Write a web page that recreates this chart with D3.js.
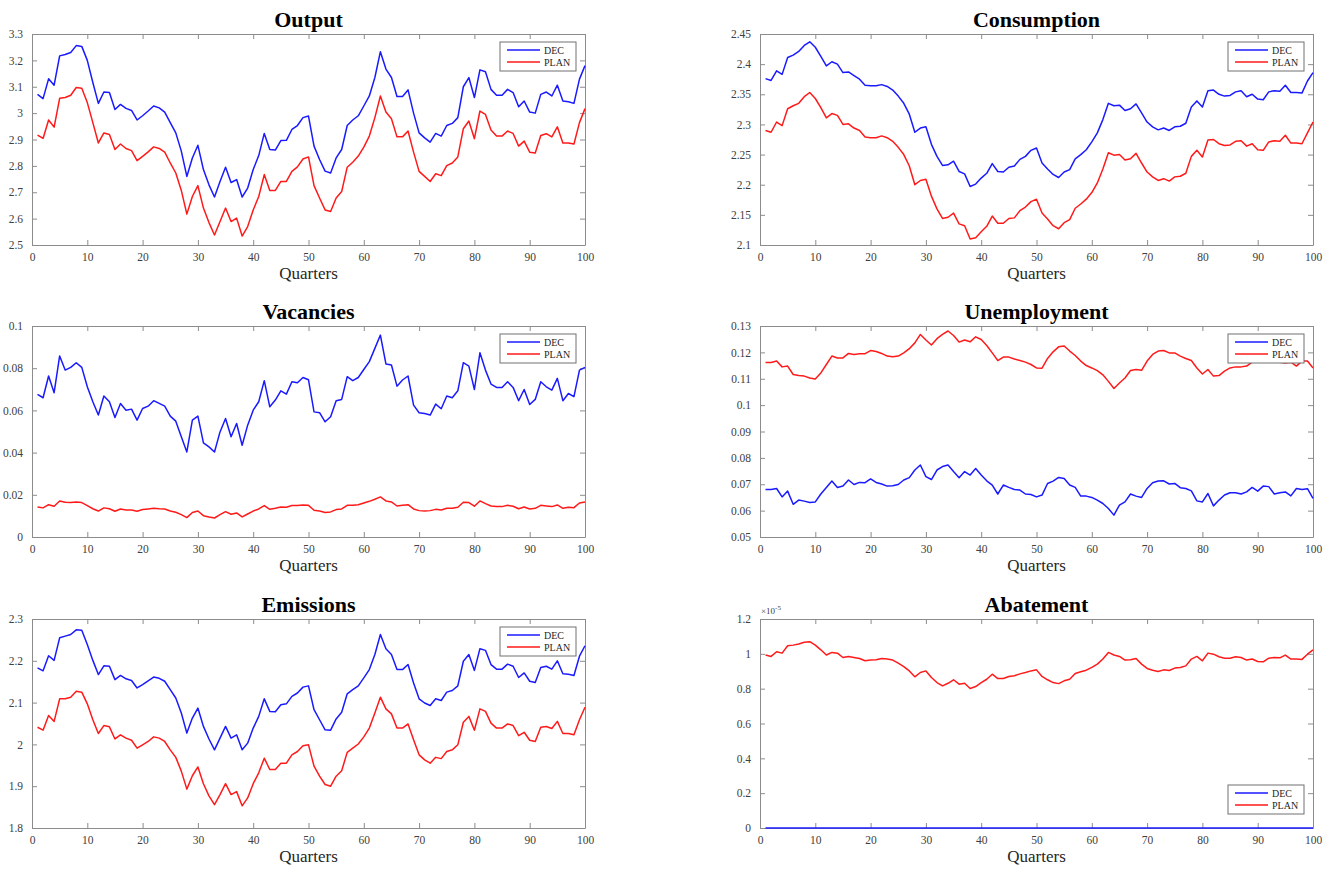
<!DOCTYPE html>
<html>
<head>
<meta charset="utf-8">
<script src="https://cdn.jsdelivr.net/npm/d3@7"></script>
<style>
  html, body { margin: 0; padding: 0; background: #fff; }
  svg { display: block; }
  text { font-family: "Liberation Serif", "Times New Roman", serif; }
</style>
</head>
<body>
<svg id="chart" width="1336" height="874"></svg>
<script>
// ---------------- DATA ----------------
const quarters = d3.range(1, 101);
const xTicks = [0, 10, 20, 30, 40, 50, 60, 70, 80, 90, 100];
const seriesNames = ["DEC", "PLAN"];

const outputDEC = [3.071,3.055,3.13,3.106,3.217,3.222,3.23,3.256,3.253,3.2,
3.116,3.037,3.08,3.078,3.014,3.033,3.018,3.01,2.974,2.99,
3.008,3.027,3.02,3.004,2.964,2.925,2.856,2.76,2.83,2.878,
2.786,2.728,2.682,2.741,2.795,2.737,2.748,2.682,2.716,2.786,
2.839,2.923,2.862,2.86,2.896,2.897,2.938,2.953,2.983,2.989,
2.875,2.824,2.78,2.773,2.83,2.862,2.953,2.974,2.99,3.027,
3.065,3.135,3.233,3.167,3.135,3.063,3.063,3.088,3.0,2.925,
2.906,2.89,2.923,2.913,2.953,2.961,2.983,3.1,3.135,3.059,
3.164,3.157,3.09,3.068,3.068,3.09,3.078,3.024,3.046,3.004,
3.0,3.071,3.08,3.065,3.106,3.046,3.043,3.037,3.129,3.18];
const outputPLAN = [2.917,2.904,2.974,2.947,3.056,3.059,3.068,3.097,3.094,3.04,
2.964,2.887,2.925,2.919,2.862,2.883,2.866,2.858,2.82,2.836,
2.853,2.872,2.866,2.852,2.811,2.773,2.707,2.617,2.684,2.725,
2.64,2.585,2.538,2.589,2.64,2.589,2.602,2.534,2.57,2.633,
2.684,2.767,2.707,2.707,2.741,2.741,2.779,2.796,2.826,2.834,
2.725,2.678,2.633,2.627,2.678,2.703,2.795,2.814,2.837,2.871,
2.913,2.983,3.065,3.004,2.979,2.91,2.91,2.932,2.852,2.779,
2.76,2.741,2.77,2.763,2.801,2.811,2.834,2.941,2.97,2.903,
3.008,2.995,2.936,2.913,2.913,2.932,2.923,2.875,2.894,2.852,
2.849,2.915,2.922,2.91,2.948,2.887,2.887,2.883,2.964,3.017];
const outputTicks = [2.5, 2.6, 2.7, 2.8, 2.9, 3.0, 3.1, 3.2, 3.3];

const consumptionDEC = [2.376,2.373,2.389,2.383,2.411,2.415,2.421,2.431,2.437,2.428,
2.413,2.397,2.404,2.4,2.386,2.387,2.381,2.375,2.365,2.364,
2.364,2.366,2.363,2.357,2.347,2.335,2.317,2.287,2.294,2.296,
2.267,2.247,2.232,2.233,2.239,2.222,2.218,2.197,2.201,2.211,
2.219,2.235,2.222,2.221,2.229,2.231,2.242,2.247,2.257,2.261,
2.236,2.226,2.217,2.212,2.221,2.225,2.243,2.25,2.258,2.271,
2.286,2.308,2.335,2.331,2.332,2.323,2.326,2.334,2.319,2.304,
2.296,2.291,2.294,2.29,2.296,2.297,2.302,2.329,2.339,2.329,
2.356,2.357,2.35,2.347,2.348,2.354,2.356,2.346,2.35,2.342,
2.341,2.354,2.356,2.355,2.365,2.353,2.353,2.352,2.372,2.386];
const consumptionPLAN = [2.29,2.287,2.304,2.298,2.326,2.331,2.335,2.346,2.353,2.343,
2.328,2.311,2.318,2.315,2.3,2.301,2.294,2.29,2.279,2.278,
2.278,2.281,2.278,2.272,2.262,2.25,2.231,2.2,2.207,2.209,
2.181,2.16,2.144,2.146,2.153,2.135,2.132,2.11,2.112,2.122,
2.131,2.148,2.136,2.136,2.144,2.145,2.157,2.163,2.172,2.176,
2.153,2.143,2.132,2.127,2.137,2.142,2.161,2.168,2.176,2.187,
2.203,2.226,2.253,2.249,2.25,2.241,2.243,2.252,2.236,2.221,
2.213,2.207,2.21,2.206,2.213,2.214,2.219,2.247,2.257,2.246,
2.274,2.275,2.268,2.265,2.266,2.272,2.273,2.264,2.268,2.258,
2.257,2.271,2.273,2.272,2.282,2.269,2.269,2.268,2.286,2.304];
const consumptionTicks = [2.1, 2.15, 2.2, 2.25, 2.3, 2.35, 2.4, 2.45];

const vacanciesDEC = [0.0676,0.066,0.0763,0.0684,0.0858,0.0791,0.0804,0.0826,0.0804,0.0712,
0.0641,0.0578,0.0668,0.0641,0.0566,0.0633,0.0601,0.0606,0.0554,0.0609,
0.062,0.0646,0.0633,0.062,0.0573,0.0549,0.0475,0.0403,0.0554,0.0573,
0.0446,0.0427,0.0403,0.0498,0.0562,0.0475,0.0538,0.0435,0.053,0.0601,
0.0641,0.0741,0.0617,0.0649,0.0693,0.0677,0.0736,0.0731,0.0756,0.0745,
0.0593,0.0589,0.0546,0.057,0.0646,0.0652,0.076,0.0741,0.0756,0.0794,
0.0831,0.0894,0.0957,0.082,0.0815,0.0715,0.0744,0.0763,0.0625,0.0589,
0.0585,0.0578,0.063,0.0608,0.0668,0.066,0.0693,0.0826,0.081,0.0699,
0.0873,0.0791,0.0725,0.0709,0.0709,0.0736,0.0709,0.0646,0.0699,0.0628,
0.0652,0.0736,0.0712,0.0696,0.0752,0.0646,0.068,0.0665,0.0791,0.0804];
const vacanciesPLAN = [0.0142,0.0138,0.0153,0.0146,0.0171,0.0165,0.0163,0.0166,0.0163,0.0149,
0.0134,0.0123,0.0138,0.0134,0.0122,0.0133,0.0128,0.0128,0.0122,0.013,
0.0133,0.0136,0.0134,0.0133,0.0123,0.0117,0.0106,0.0092,0.0116,0.0123,
0.0101,0.0095,0.009,0.0106,0.012,0.0108,0.0114,0.0095,0.0109,0.0123,
0.0133,0.0149,0.0131,0.0136,0.0142,0.0141,0.0149,0.0149,0.0152,0.015,
0.0127,0.0123,0.0116,0.0119,0.013,0.0133,0.015,0.015,0.0153,0.0161,
0.0169,0.0179,0.019,0.0171,0.0166,0.0147,0.015,0.0153,0.0133,0.0125,
0.0123,0.0125,0.0131,0.0128,0.0136,0.0136,0.0141,0.0165,0.0163,0.0146,
0.0171,0.0158,0.0147,0.0144,0.0144,0.015,0.0146,0.0134,0.0142,0.0133,
0.0136,0.015,0.0147,0.0144,0.0152,0.0136,0.0141,0.0139,0.0161,0.0166];
const vacanciesTicks = [0, 0.02, 0.04, 0.06, 0.08, 0.1];

const unemploymentDEC = [0.068,0.068,0.0684,0.0652,0.0674,0.0624,0.064,0.0636,0.0631,0.0633,
0.0663,0.0688,0.0712,0.0688,0.0693,0.0716,0.0699,0.0707,0.0706,0.072,
0.0707,0.0701,0.0693,0.0694,0.0699,0.0716,0.0725,0.0754,0.0773,0.0729,
0.0718,0.0754,0.0767,0.0773,0.0748,0.0725,0.0748,0.0735,0.076,0.0735,
0.0713,0.0697,0.0663,0.0697,0.0688,0.068,0.0678,0.0663,0.0661,0.0652,
0.0659,0.0703,0.0712,0.0726,0.0722,0.0697,0.0688,0.0655,0.0655,0.065,
0.064,0.0627,0.0608,0.0583,0.0621,0.0633,0.0663,0.0655,0.065,0.0684,
0.0706,0.0712,0.0713,0.0701,0.0703,0.0687,0.0684,0.0675,0.0637,0.0633,
0.0665,0.0618,0.064,0.0659,0.0668,0.0668,0.0663,0.0671,0.0688,0.0674,
0.0693,0.0691,0.0663,0.0668,0.0671,0.0656,0.0684,0.068,0.0683,0.0646];
const unemploymentPLAN = [0.1162,0.1162,0.1167,0.1145,0.1148,0.1116,0.1112,0.111,0.1103,0.1099,
0.1122,0.1154,0.1186,0.1179,0.1179,0.1196,0.1192,0.1195,0.1195,0.1207,
0.1203,0.1196,0.1186,0.1183,0.1186,0.1198,0.1214,0.1236,0.1268,0.1247,
0.1228,0.1252,0.1268,0.1281,0.1264,0.1239,0.1247,0.124,0.1259,0.1249,
0.1226,0.1198,0.1169,0.1182,0.1182,0.1175,0.1169,0.1163,0.1154,0.1141,
0.114,0.1177,0.1202,0.1221,0.1224,0.1205,0.1188,0.1167,0.115,0.1141,
0.1131,0.1115,0.109,0.1063,0.1084,0.1103,0.1131,0.1135,0.1132,0.1167,
0.1192,0.1205,0.1207,0.1198,0.1198,0.1186,0.1177,0.1169,0.1141,0.1118,
0.1135,0.111,0.1112,0.1129,0.1141,0.1145,0.1145,0.1148,0.1163,0.117,
0.1179,0.1179,0.1173,0.1163,0.116,0.1163,0.1148,0.1167,0.1167,0.1141];
const unemploymentTicks = [0.05, 0.06, 0.07, 0.08, 0.09, 0.1, 0.11, 0.12, 0.13];

const emissionsDEC = [2.183,2.176,2.212,2.201,2.255,2.259,2.263,2.274,2.273,2.239,
2.201,2.167,2.188,2.187,2.155,2.165,2.157,2.153,2.135,2.143,
2.152,2.161,2.158,2.151,2.131,2.111,2.075,2.027,2.063,2.087,
2.043,2.013,1.987,2.015,2.043,2.015,2.023,1.987,2.003,2.039,
2.067,2.109,2.079,2.078,2.095,2.097,2.115,2.123,2.137,2.14,
2.083,2.059,2.035,2.034,2.061,2.077,2.121,2.131,2.14,2.159,
2.179,2.215,2.263,2.229,2.215,2.179,2.179,2.191,2.147,2.109,
2.099,2.093,2.109,2.105,2.125,2.129,2.14,2.199,2.215,2.177,
2.229,2.225,2.191,2.18,2.18,2.192,2.187,2.16,2.171,2.151,
2.148,2.184,2.187,2.18,2.2,2.169,2.168,2.165,2.211,2.236];
const emissionsPLAN = [2.041,2.034,2.069,2.055,2.109,2.109,2.113,2.127,2.125,2.097,
2.059,2.026,2.045,2.042,2.013,2.023,2.015,2.01,1.991,1.999,
2.007,2.018,2.015,2.007,1.987,1.969,1.936,1.893,1.925,1.946,
1.906,1.877,1.856,1.88,1.906,1.88,1.887,1.853,1.872,1.906,
1.932,1.967,1.94,1.94,1.955,1.955,1.975,1.983,1.997,1.999,
1.948,1.924,1.904,1.9,1.924,1.937,1.981,1.991,2.001,2.018,
2.039,2.075,2.113,2.085,2.073,2.039,2.039,2.049,2.011,1.975,
1.963,1.955,1.969,1.966,1.983,1.987,1.999,2.053,2.067,2.034,
2.085,2.079,2.051,2.039,2.039,2.049,2.045,2.021,2.029,2.01,
2.007,2.041,2.043,2.038,2.055,2.026,2.026,2.023,2.059,2.089];
const emissionsTicks = [1.8, 1.9, 2.0, 2.1, 2.2, 2.3];

// Abatement values in units of 1e-5
const abatementDEC = [0,0,0,0,0,0,0,0,0,0, 0,0,0,0,0,0,0,0,0,0,
0,0,0,0,0,0,0,0,0,0, 0,0,0,0,0,0,0,0,0,0,
0,0,0,0,0,0,0,0,0,0, 0,0,0,0,0,0,0,0,0,0,
0,0,0,0,0,0,0,0,0,0, 0,0,0,0,0,0,0,0,0,0,
0,0,0,0,0,0,0,0,0,0, 0,0,0,0,0,0,0,0,0,0];
const abatementPLAN = [0.993,0.985,1.012,1.004,1.046,1.05,1.056,1.066,1.07,1.05,
1.023,0.993,1.008,1.004,0.979,0.985,0.979,0.973,0.96,0.964,
0.966,0.973,0.97,0.964,0.947,0.927,0.902,0.868,0.893,0.902,
0.864,0.835,0.816,0.831,0.851,0.826,0.831,0.801,0.812,0.835,
0.854,0.883,0.858,0.858,0.87,0.874,0.885,0.893,0.902,0.908,
0.87,0.851,0.835,0.829,0.845,0.854,0.887,0.897,0.906,0.922,
0.941,0.97,1.008,0.993,0.985,0.964,0.966,0.973,0.941,0.916,
0.906,0.899,0.908,0.904,0.918,0.922,0.931,0.97,0.985,0.96,
1.004,0.998,0.983,0.975,0.975,0.983,0.979,0.964,0.97,0.956,
0.954,0.975,0.979,0.977,0.993,0.97,0.97,0.968,0.998,1.023];
const abatementTicks = [0, 0.2, 0.4, 0.6, 0.8, 1.0, 1.2];

// ---------------- LAYOUT ----------------
const colLeft = [32, 585], colRight = [760, 1313];
const rows = [[34, 245], [326, 537], [619, 828]];
const panels = [
  { title: "Output",       dec: outputDEC,       plan: outputPLAN,       ticks: outputTicks,       col: colLeft,  row: rows[0], legend: "top" },
  { title: "Consumption",  dec: consumptionDEC,  plan: consumptionPLAN,  ticks: consumptionTicks,  col: colRight, row: rows[0], legend: "top" },
  { title: "Vacancies",    dec: vacanciesDEC,    plan: vacanciesPLAN,    ticks: vacanciesTicks,    col: colLeft,  row: rows[1], legend: "top" },
  { title: "Unemployment", dec: unemploymentDEC, plan: unemploymentPLAN, ticks: unemploymentTicks, col: colRight, row: rows[1], legend: "top" },
  { title: "Emissions",    dec: emissionsDEC,    plan: emissionsPLAN,    ticks: emissionsTicks,    col: colLeft,  row: rows[2], legend: "top" },
  { title: "Abatement",    dec: abatementDEC,    plan: abatementPLAN,    ticks: abatementTicks,    col: colRight, row: rows[2], legend: "bottom", exponent: true }
];

const colors = { DEC: "#1a1aff", PLAN: "#ff1a1a" };
const boxColor = "#8c8c8c";
const labelColor = "#404040";
const fmt = v => String(+v.toFixed(4));

const svg = d3.select("#chart");

panels.forEach(p => {
  const [x0, x1] = p.col, [yT, yB] = p.row;
  const x = d3.scaleLinear().domain([0, 100]).range([x0, x1]);
  const y = d3.scaleLinear().domain(d3.extent(p.ticks)).range([yB, yT]);
  const g = svg.append("g");

  // axes (ticks inward, box on)
  const tl = 5;
  const axB = g.append("g").attr("transform", `translate(0,${yB})`)
    .call(d3.axisBottom(x).tickValues(xTicks).tickFormat(fmt).tickSizeInner(-tl).tickSizeOuter(0).tickPadding(8));
  const axT = g.append("g").attr("transform", `translate(0,${yT})`)
    .call(d3.axisTop(x).tickValues(xTicks).tickFormat("").tickSizeInner(-tl).tickSizeOuter(0));
  const axL = g.append("g").attr("transform", `translate(${x0},0)`)
    .call(d3.axisLeft(y).tickValues(p.ticks).tickFormat(fmt).tickSizeInner(-tl).tickSizeOuter(0).tickPadding(9));
  const axR = g.append("g").attr("transform", `translate(${x1},0)`)
    .call(d3.axisRight(y).tickValues(p.ticks).tickFormat("").tickSizeInner(-tl).tickSizeOuter(0));
  [axB, axT, axL, axR].forEach(a => {
    a.select(".domain").attr("stroke", boxColor).attr("stroke-width", 1);
    a.selectAll(".tick line").attr("stroke", boxColor);
    a.selectAll(".tick text").attr("fill", labelColor)
      .style("font-family", '"Liberation Serif", "Times New Roman", serif').style("font-size", "11.5px");
  });

  // lines
  const line = d3.line().x((d, i) => x(quarters[i])).y(d => y(d));
  g.append("path").datum(p.dec).attr("d", line).attr("fill", "none")
    .attr("stroke", colors.DEC).attr("stroke-width", 1.5).attr("stroke-linejoin", "round");
  g.append("path").datum(p.plan).attr("d", line).attr("fill", "none")
    .attr("stroke", colors.PLAN).attr("stroke-width", 1.5).attr("stroke-linejoin", "round");

  // title
  g.append("text").attr("x", (x0 + x1) / 2).attr("y", yT - 7)
    .attr("text-anchor", "middle").attr("font-weight", "bold").attr("font-size", 22)
    .attr("fill", "#000").text(p.title);

  // x label
  g.append("text").attr("x", (x0 + x1) / 2).attr("y", yB + 34)
    .attr("text-anchor", "middle").attr("font-size", 17).attr("fill", "#262626").text("Quarters");

  if (p.exponent) {
    const t = g.append("text").attr("x", x0 + 1).attr("y", yT - 5)
      .attr("font-size", 9).attr("fill", labelColor);
    t.append("tspan").text("\u00d710");
    t.append("tspan").attr("dy", -4).attr("font-size", 7).text("-5");
  }

  // legend
  const lw = 76, lh = 29;
  const lx = x1 - 9 - lw;
  const ly = p.legend === "top" ? yT + 8 : yB - 14 - lh;
  const lg = g.append("g").attr("transform", `translate(${lx},${ly})`);
  lg.append("rect").attr("width", lw).attr("height", lh).attr("fill", "#fff")
    .attr("stroke", "#707070").attr("stroke-width", 1);
  seriesNames.forEach((s, i) => {
    const yy = 8 + i * 12;
    lg.append("line").attr("x1", 7).attr("x2", 40).attr("y1", yy).attr("y2", yy)
      .attr("stroke", colors[s]).attr("stroke-width", 1.5);
    lg.append("text").attr("x", 44).attr("y", yy + 3.5).attr("font-size", 10)
      .attr("fill", "#262626").text(s);
  });
});
</script>
</body>
</html>
